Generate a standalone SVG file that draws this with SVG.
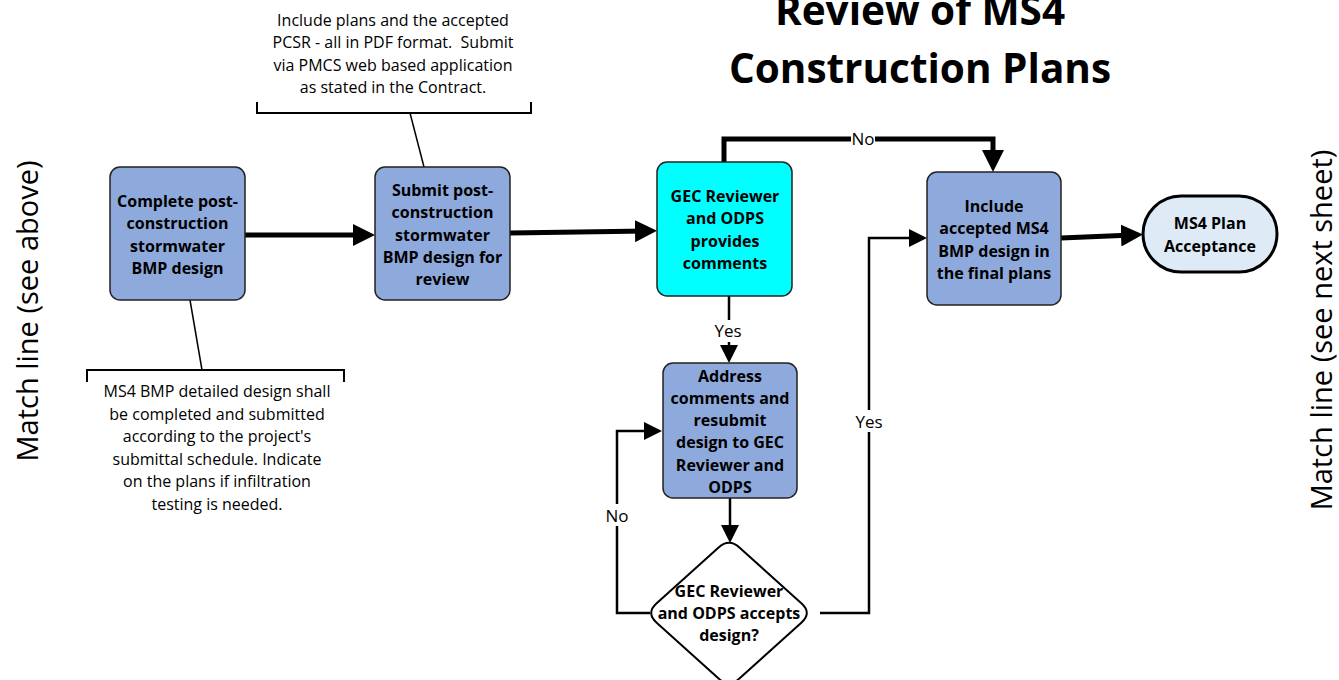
<svg xmlns="http://www.w3.org/2000/svg" width="1339" height="680" viewBox="0 0 1339 680">
<style>
  .node { fill: #8EA9DB; stroke: #222; stroke-width: 1.5; }
  .cyan { fill: #00FFFF; stroke: #222; stroke-width: 1.5; }
  .term { fill: #DEEAF6; stroke: #000; stroke-width: 3; }
  .dia { fill: #FFFFFF; stroke: #000; stroke-width: 2; }
  .nt { font-family: "Open Sans", "Noto Sans", sans-serif; font-weight: bold; font-size: 16px; fill: #000; text-anchor: middle; }
  .at { font-family: "Open Sans", "Noto Sans", sans-serif; font-size: 16px; fill: #000; text-anchor: middle; }
  .lbl { font-family: "Open Sans", "Noto Sans", sans-serif; font-size: 17px; fill: #000; text-anchor: middle; }
  .ml { font-family: "Open Sans", "Noto Sans", sans-serif; font-size: 29px; fill: #000; text-anchor: middle; }
  .title { font-family: "Open Sans", "Noto Sans", sans-serif; font-weight: bold; font-size: 40.5px; fill: #000; text-anchor: middle; }
  .thick { fill: none; stroke: #000; stroke-width: 5; stroke-linejoin: miter; }
  .thin { fill: none; stroke: #000; stroke-width: 2.5; stroke-linejoin: miter; }
  .ann { fill: none; stroke: #000; stroke-width: 2; }
  .stem { fill: none; stroke: #000; stroke-width: 1.5; }
</style>
<defs>
  <marker id="big" markerUnits="userSpaceOnUse" markerWidth="22" markerHeight="22" refX="12" refY="11" orient="auto">
    <path d="M0,0 L22,11 L0,22 Z" fill="#000"/>
  </marker>
  <marker id="small" markerUnits="userSpaceOnUse" markerWidth="18" markerHeight="18" refX="10" refY="9" orient="auto">
    <path d="M0,0 L18,9 L0,18 Z" fill="#000"/>
  </marker>
</defs>
<rect x="0" y="0" width="1339" height="680" fill="#FFFFFF"/>

<g id="title">
  <text class="title" x="920" y="25">Review of MS4</text>
  <text class="title" x="920" y="83">Construction Plans</text>
</g>

<g id="matchline-left">
  <text class="ml" transform="translate(38,311) rotate(-90)">Match line (see above)</text>
</g>
<g id="matchline-right">
  <text class="ml" transform="translate(1332,330) rotate(-90)">Match line (see next sheet)</text>
</g>

<g id="annotation-top">
  <path class="ann" d="M257,102 V113 H531 V102"/>
  <path class="stem" d="M410,113 L424,167"/>
  <text class="at" x="393" y="25.5">Include plans and the accepted</text>
  <text class="at" x="393" y="48">PCSR - all in PDF format.&#160; Submit</text>
  <text class="at" x="393" y="70.5">via PMCS web based application</text>
  <text class="at" x="393" y="93">as stated in the Contract.</text>
</g>

<g id="annotation-bottom">
  <path class="ann" d="M87,382 V370 H344 V382"/>
  <path class="stem" d="M190,300 L202,370"/>
  <text class="at" x="217" y="397">MS4 BMP detailed design shall</text>
  <text class="at" x="217" y="419.5">be completed and submitted</text>
  <text class="at" x="217" y="442">according to the project's</text>
  <text class="at" x="217" y="464.5">submittal schedule. Indicate</text>
  <text class="at" x="217" y="487">on the plans if infiltration</text>
  <text class="at" x="217" y="509.5">testing is needed.</text>
</g>

<g id="connectors">
  <path class="thick" d="M245,235 L365,235" marker-end="url(#big)"/>
  <path class="thick" d="M510,233 L647,231" marker-end="url(#big)"/>
  <path class="thick" d="M724,162 V139 H993 V162" marker-end="url(#big)"/>
  <rect x="851" y="129" width="24" height="20" fill="#FFFFFF"/>
  <text class="lbl" x="863" y="145">No</text>
  <path class="thin" d="M729,296 V355" marker-end="url(#small)"/>
  <rect x="712" y="320" width="34" height="22" fill="#FFFFFF"/>
  <text class="lbl" x="728" y="337">Yes</text>
  <path class="thin" d="M730,498 V535" marker-end="url(#small)"/>
  <path class="thin" d="M650,613 H617 V431 H654" marker-end="url(#small)"/>
  <rect x="604" y="504" width="26" height="22" fill="#FFFFFF"/>
  <text class="lbl" x="617" y="522">No</text>
  <path class="thin" d="M820,613 H869 V238 H919" marker-end="url(#small)"/>
  <rect x="852" y="410" width="34" height="22" fill="#FFFFFF"/>
  <text class="lbl" x="869" y="428">Yes</text>
  <path class="thick" d="M1061,238 L1133,235" marker-end="url(#big)"/>
</g>

<g id="node-complete">
  <rect class="node" x="110" y="167" width="135" height="133" rx="10"/>
  <text class="nt" x="177.5" y="207">Complete post-</text>
  <text class="nt" x="177.5" y="229">construction</text>
  <text class="nt" x="177.5" y="251.5">stormwater</text>
  <text class="nt" x="177.5" y="273.5">BMP design</text>
</g>

<g id="node-submit">
  <rect class="node" x="375" y="167" width="135" height="133" rx="10"/>
  <text class="nt" x="442.5" y="195.5">Submit post-</text>
  <text class="nt" x="442.5" y="218">construction</text>
  <text class="nt" x="442.5" y="240.5">stormwater</text>
  <text class="nt" x="442.5" y="262.5">BMP design for</text>
  <text class="nt" x="442.5" y="285">review</text>
</g>

<g id="node-review">
  <rect class="cyan" x="657" y="162" width="135" height="134" rx="10"/>
  <text class="nt" x="725" y="201.5">GEC Reviewer</text>
  <text class="nt" x="725" y="224">and ODPS</text>
  <text class="nt" x="725" y="246.5">provides</text>
  <text class="nt" x="725" y="269">comments</text>
</g>

<g id="node-include">
  <rect class="node" x="927" y="172" width="134" height="133" rx="10"/>
  <text class="nt" x="994" y="211.5">Include</text>
  <text class="nt" x="994" y="234">accepted MS4</text>
  <text class="nt" x="994" y="256.5">BMP design in</text>
  <text class="nt" x="994" y="279">the final plans</text>
</g>

<g id="node-address">
  <rect class="node" x="663" y="363" width="134" height="135" rx="10"/>
  <text class="nt" x="730" y="381.5">Address</text>
  <text class="nt" x="730" y="403.8">comments and</text>
  <text class="nt" x="730" y="426">resubmit</text>
  <text class="nt" x="730" y="448.3">design to GEC</text>
  <text class="nt" x="730" y="470.6">Reviewer and</text>
  <text class="nt" x="730" y="493">ODPS</text>
</g>

<g id="node-accepts">
  <path class="dia" d="M718.6,547.4 Q729,538 739.4,547.4 L801.6,603.6 Q812,613 801.6,622.4 L739.4,678.6 Q729,688 718.6,678.6 L656.4,622.4 Q646,613 656.4,603.6 Z"/>
  <text class="nt" x="729" y="596.5">GEC Reviewer</text>
  <text class="nt" x="729" y="618.5">and ODPS accepts</text>
  <text class="nt" x="729" y="640.5">design?</text>
</g>

<g id="node-acceptance">
  <rect class="term" x="1143" y="196" width="134" height="76" rx="38"/>
  <text class="nt" x="1210" y="228.5">MS4 Plan</text>
  <text class="nt" x="1210" y="251.5">Acceptance</text>
</g>
</svg>
